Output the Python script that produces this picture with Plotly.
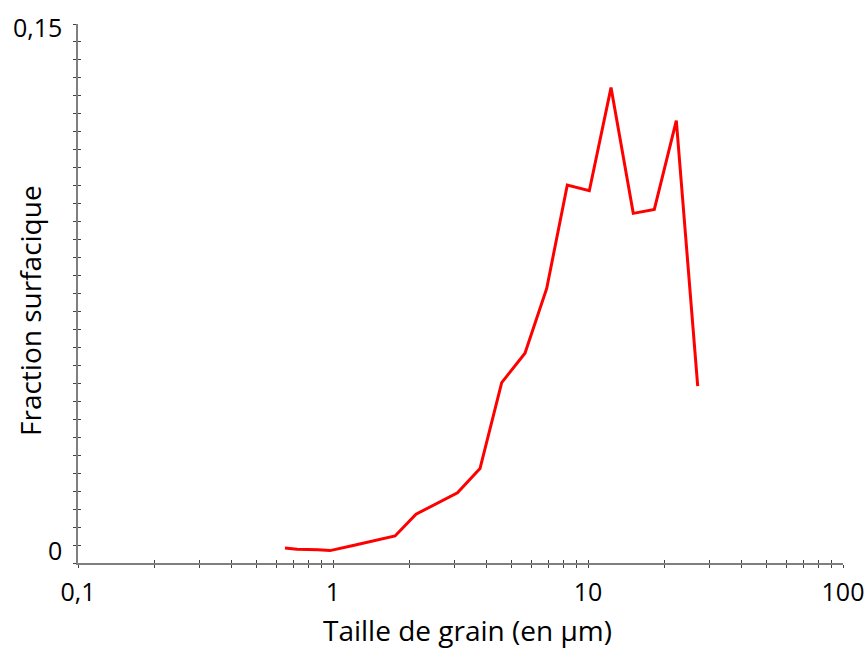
import plotly.graph_objects as go

# Grain-size distribution (surface fraction vs. grain size, log scale)
grain_size_um = [0.648, 0.722, 0.873, 0.973, 1.187, 1.448, 1.751, 2.116, 2.546,
                 3.077, 3.771, 4.587, 5.66, 6.887, 8.295, 10.12, 12.31, 15.05,
                 18.2, 22.2, 26.93]
surface_fraction = [0.00418, 0.00382, 0.00368, 0.00345, 0.00479, 0.00618, 0.00752,
                    0.01357, 0.01663, 0.01956, 0.0263, 0.0502, 0.0584, 0.0764,
                    0.1052, 0.1036, 0.1323, 0.0973, 0.0984, 0.1231, 0.0492]

x_decades = [0.1, 1, 10, 100]
x_decade_labels = ["0,1", "1", "10", "100"]
y_min, y_max = 0.0, 0.15
y_labels = ["0", "0,15"]

FONT = "Open Sans"
AXIS_COLOR = "#7f7f7f"
TICK_SIZE = 25
TITLE_SIZE = 28

# log tick positions: decades plus 2..9 in between
x_ticks = []
x_ticktext = []
for d, lab in zip(x_decades, x_decade_labels):
    x_ticks.append(d)
    x_ticktext.append(lab)
    if d < x_decades[-1]:
        for m in range(2, 10):
            x_ticks.append(d * m)
            x_ticktext.append("")

y_ticks = [round(i * 0.005, 3) for i in range(31)]

fig = go.Figure()
fig.add_trace(go.Scatter(
    x=grain_size_um, y=surface_fraction, mode="lines",
    line=dict(color="#ff0000", width=3), showlegend=False, hoverinfo="skip"))
# empty trace so the overlay axes (inner half of the crossing ticks) render
fig.add_trace(go.Scatter(x=[1], y=[0], xaxis="x2", yaxis="y2", mode="markers",
                         marker=dict(opacity=0), showlegend=False, hoverinfo="skip"))

common_x = dict(type="log", range=[-1, 2], tickvals=x_ticks, showgrid=False,
                zeroline=False, tickcolor="#404040", tickwidth=1.3, ticklen=3,
                automargin=False)
common_y = dict(range=[y_min, y_max], tickvals=y_ticks, showgrid=False,
                zeroline=False, tickcolor="#404040", tickwidth=1.3, ticklen=3,
                automargin=False)

fig.update_layout(
    width=868, height=650,
    margin=dict(l=78, r=25, t=24, b=87),
    paper_bgcolor="white", plot_bgcolor="white",
    font=dict(family=FONT, size=TICK_SIZE, color="#000000"),
    xaxis=dict(**common_x, ticks="outside", ticktext=x_ticktext,
               showline=True, linecolor=AXIS_COLOR, linewidth=1.6,
               tickfont=dict(family=FONT, size=TICK_SIZE, color="#000000"),
               ticklabelstandoff=3),
    yaxis=dict(**common_y, ticks="outside", showticklabels=False,
               showline=True, linecolor=AXIS_COLOR, linewidth=1.6),
    xaxis2=dict(**common_x, overlaying="x", ticks="inside", showticklabels=False,
                showline=False, anchor="y2"),
    yaxis2=dict(**common_y, overlaying="y", ticks="inside", showticklabels=False,
                showline=False, anchor="x2"),
)

# y-axis end labels
fig.add_annotation(xref="paper", yref="y", x=0, y=y_min, text=y_labels[0],
                   showarrow=False, xanchor="right", yanchor="middle",
                   xshift=-14, yshift=13, font=dict(family=FONT, size=TICK_SIZE))
fig.add_annotation(xref="paper", yref="y", x=0, y=y_max, text=y_labels[1],
                   showarrow=False, xanchor="right", yanchor="middle",
                   xshift=-14, yshift=-3, font=dict(family=FONT, size=TICK_SIZE))

# axis titles
fig.add_annotation(xref="paper", yref="paper", x=(467 - 78) / 765, y=0,
                   text="Taille de grain (en µm)", showarrow=False,
                   xanchor="center", yanchor="middle", yshift=-67,
                   font=dict(family=FONT, size=TITLE_SIZE))
fig.add_annotation(xref="paper", yref="paper", x=0, y=(563 - 311) / 539,
                   text="Fraction surfacique", showarrow=False, textangle=-90,
                   xanchor="center", yanchor="middle", xshift=-48,
                   font=dict(family=FONT, size=TITLE_SIZE))

fig.write_html("out.html")
